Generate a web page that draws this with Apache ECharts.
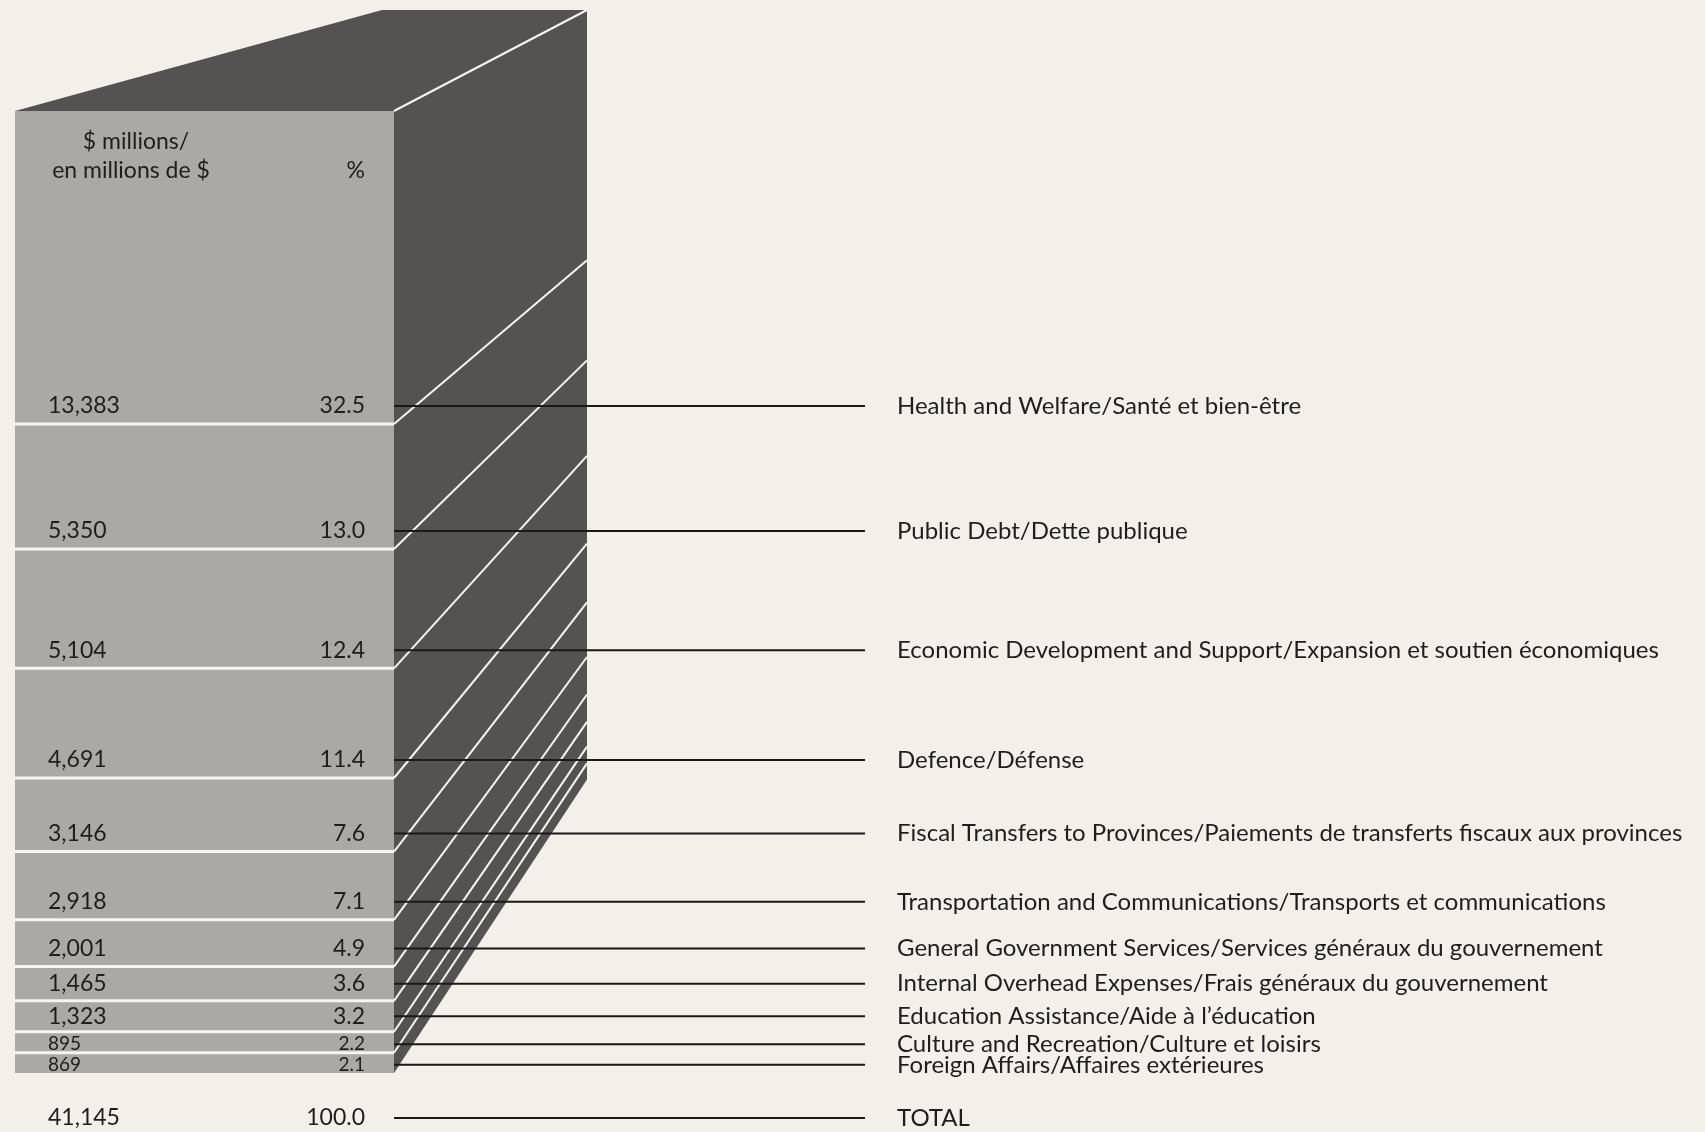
<!DOCTYPE html>
<html><head><meta charset="utf-8">
<script src="https://cdn.jsdelivr.net/npm/echarts@6/dist/echarts.min.js"></script>
<style>html,body{margin:0;padding:0;background:#f2f0e9;}#c{width:1705px;height:1132px;}</style>
</head><body><div id="c"></div>
<script>
// ---- data ----
const categories = [
  'Health and Welfare/Santé et bien-être',
  'Public Debt/Dette publique',
  'Economic Development and Support/Expansion et soutien économiques',
  'Defence/Défense',
  'Fiscal Transfers to Provinces/Paiements de transferts fiscaux aux provinces',
  'Transportation and Communications/Transports et communications',
  'General Government Services/Services généraux du gouvernement',
  'Internal Overhead Expenses/Frais généraux du gouvernement',
  'Education Assistance/Aide à l’éducation',
  'Culture and Recreation/Culture et loisirs',
  'Foreign Affairs/Affaires extérieures'
];
const amounts = [13383, 5350, 5104, 4691, 3146, 2918, 2001, 1465, 1323, 895, 869];
const percents = ['32.5', '13.0', '12.4', '11.4', '7.6', '7.1', '4.9', '3.6', '3.2', '2.2', '2.1'];
const totalLabel = 'TOTAL';
const totalAmount = 41145;
const totalPercent = '100.0';
const headerAmount = ['$ millions/', 'en millions de $'];
const headerPercent = '%';

// ---- style ----
const BG = '#f2f0e9', FRONT = '#aaa9a6', DARK = '#545352', WHITE = '#f6f5f0', INK = '#1f1e1c';
const FONT = 'Lato, "Open Sans", sans-serif';
const DEPTH_X = 193, TOP_BACK_LEFT = 367, BACK_RISE = 101, BACK_K = 0.8;
const AMOUNT_X = 48, PCT_X = 365, LINE_END = 865, TEXT_X = 897;
const FS_NAME = 24, FS_NUM = 23, FS_SMALL = 19;

const fmt = v => v.toLocaleString('en-US');

// stacked bounds (top item = first category)
const rows = [];
let acc = 0;
for (let i = amounts.length - 1; i >= 0; i--) {
  rows[i] = [i, acc, acc + amounts[i]];
  acc += amounts[i];
}

const chart = echarts.init(document.getElementById('c'), null, {renderer: 'canvas'});

function geom(api) {
  const top = api.coord([0, totalAmount]);
  const bot = api.coord([1, 0]);
  const yTop = top[1];
  const back = y => (yTop - BACK_RISE) + BACK_K * (y - yTop);
  return {xL: top[0], xR: bot[0], yTop, yBot: bot[1], back};
}

function renderBlock(params, api) {
  const i = api.value(0), lo = api.value(1), hi = api.value(2);
  const g = geom(api);
  const yHi = api.coord([0, hi])[1], yLo = api.coord([0, lo])[1];
  const xB = g.xR + DEPTH_X;
  const ch = [];
  ch.push({type: 'rect', shape: {x: g.xL, y: yHi, width: g.xR - g.xL, height: yLo - yHi}, style: {fill: FRONT}});
  ch.push({type: 'polygon', shape: {points: [[g.xR, yHi], [xB, g.back(yHi)], [xB, g.back(yLo)], [g.xR, yLo]]}, style: {fill: DARK}});
  if (i === 0) {
    ch.push({type: 'polygon', shape: {points: [[g.xL, yHi], [g.xR, yHi], [xB, g.back(yHi)], [g.xL + TOP_BACK_LEFT, g.back(yHi)]]}, style: {fill: DARK}});
  } else {
    ch.push({type: 'line', shape: {x1: g.xL, y1: yHi, x2: g.xR, y2: yHi}, style: {stroke: WHITE, lineWidth: 3}});
  }
  ch.push({type: 'line', shape: {x1: g.xR, y1: yHi, x2: xB, y2: g.back(yHi)}, style: {stroke: WHITE, lineWidth: 2}});
  return {type: 'group', children: ch};
}

function renderLabels(params, api) {
  const i = api.value(0), lo = api.value(1), hi = api.value(2);
  const g = geom(api);
  const yHi = api.coord([0, hi])[1], yLo = api.coord([0, lo])[1];
  const h = yLo - yHi;
  const y = yLo - Math.min(h / 2, 18) + (h < 25 ? 2 : 0);
  const fs = h < 25 ? FS_SMALL : FS_NUM;
  const ch = [];
  const addRow = (yy, amt, pct, name, fsz) => {
    ch.push({type: 'line', shape: {x1: g.xR, y1: yy, x2: LINE_END, y2: yy}, style: {stroke: '#1a1918', lineWidth: 2}});
    ch.push({type: 'text', style: {text: amt, x: AMOUNT_X, y: yy, font: fsz + 'px ' + FONT, fill: INK, textAlign: 'left', textVerticalAlign: 'middle'}});
    ch.push({type: 'text', style: {text: pct, x: PCT_X, y: yy, font: fsz + 'px ' + FONT, fill: INK, textAlign: 'right', textVerticalAlign: 'middle'}});
    ch.push({type: 'text', style: {text: name, x: TEXT_X, y: yy, font: FS_NAME + 'px ' + FONT, fill: INK, textAlign: 'left', textVerticalAlign: 'middle'}});
  };
  addRow(y, fmt(amounts[i]), percents[i], categories[i], fs);
  if (i === 0) {
    ch.push({type: 'text', style: {text: headerAmount[0], x: 136, y: g.yTop + 31, font: FS_NUM + 'px ' + FONT, fill: INK, textAlign: 'center', textVerticalAlign: 'middle'}});
    ch.push({type: 'text', style: {text: headerAmount[1], x: 131, y: g.yTop + 60, font: FS_NUM + 'px ' + FONT, fill: INK, textAlign: 'center', textVerticalAlign: 'middle'}});
    ch.push({type: 'text', style: {text: headerPercent, x: PCT_X, y: g.yTop + 60, font: FS_NUM + 'px ' + FONT, fill: INK, textAlign: 'right', textVerticalAlign: 'middle'}});
  }
  if (i === amounts.length - 1) {
    addRow(g.yBot + 45, fmt(totalAmount), totalPercent, totalLabel, FS_NUM);
  }
  return {type: 'group', children: ch};
}

chart.setOption({
  backgroundColor: BG,
  animation: false,
  grid: {left: 15, top: 111, width: 379, height: 962},
  xAxis: {type: 'value', min: 0, max: 1, show: false},
  yAxis: {type: 'value', min: 0, max: totalAmount, show: false},
  series: [
    {type: 'custom', name: 'block', renderItem: renderBlock, data: rows, encode: {x: 0, y: 1}, z: 2},
    {type: 'custom', name: 'labels', renderItem: renderLabels, data: rows, encode: {x: 0, y: 1}, z: 3}
  ]
});
</script></body></html>
